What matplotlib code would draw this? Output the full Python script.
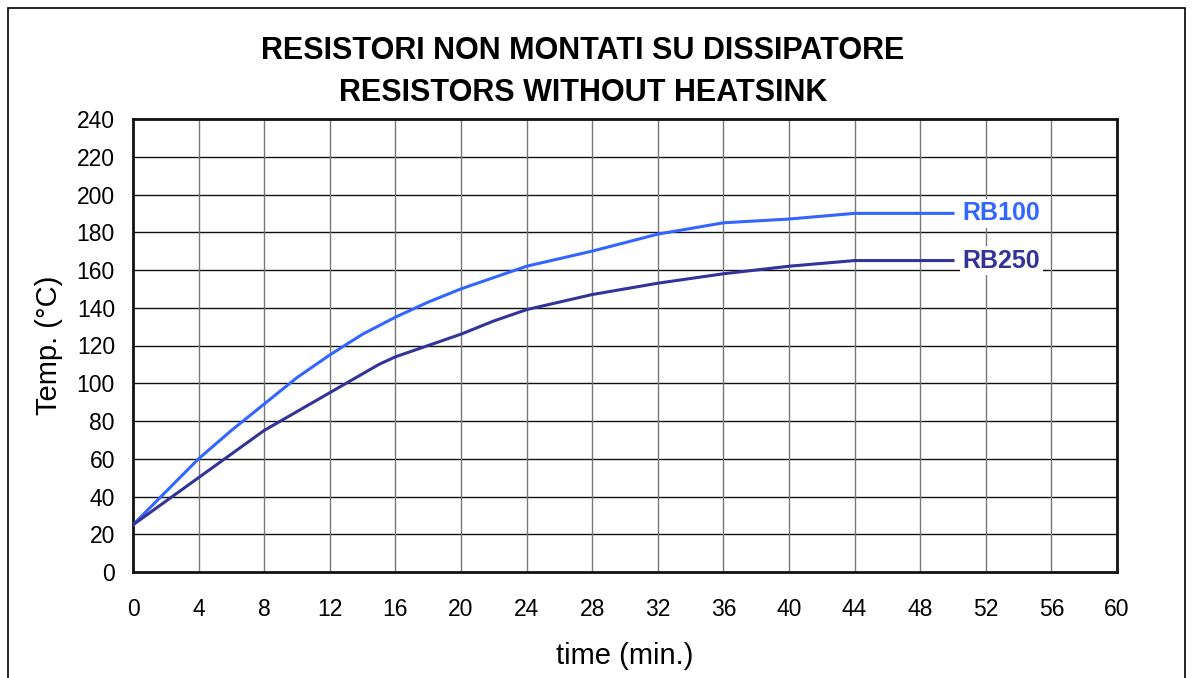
import matplotlib
matplotlib.use("Agg")
import matplotlib.pyplot as plt
from matplotlib.patches import Rectangle

plt.rcParams['font.family'] = ['Liberation Sans', 'DejaVu Sans']

time_rb100 = [0, 4, 6, 8, 10, 12, 14, 16, 18, 20, 24, 28, 32, 34, 36, 38, 40, 44, 50]
temp_rb100 = [25, 60, 75, 89, 103, 115, 126, 135, 143, 150, 162, 170, 179, 182, 185, 186, 187, 190, 190]
time_rb250 = [0, 4, 8, 12, 15, 16, 18, 20, 22, 24, 28, 32, 36, 40, 44, 50]
temp_rb250 = [25, 50, 75, 95, 110, 114, 120, 126, 133, 139, 147, 153, 158, 162, 165, 165]

x_ticks = list(range(0, 61, 4))
y_ticks = list(range(0, 241, 20))

title = "RESISTORI NON MONTATI SU DISSIPATORE\nRESISTORS WITHOUT HEATSINK"
series_names = ["RB100", "RB250"]
colors = ["#3366FF", "#333399"]

fig = plt.figure(figsize=(11.92, 6.78), dpi=100)
ax = fig.add_axes([133/1192, 1 - 572/678, (1117-133)/1192, (572-119)/678])

# figure frame
fig.patches.append(Rectangle((8/1192, -0.05), (1185-8)/1192, 1.05 - 8/678,
                             transform=fig.transFigure, fill=False,
                             edgecolor='black', linewidth=1.2))

ax.set_xlim(0, 60)
ax.set_ylim(0, 240)
ax.set_xticks(x_ticks)
ax.set_yticks(y_ticks)
for y in y_ticks[1:-1]:
    ax.axhline(y, color='#111111', linewidth=1.0, zorder=1)
for x in x_ticks[1:-1]:
    ax.axvline(x, color='#777777', linewidth=1.0, zorder=1)

ax.plot(time_rb100, temp_rb100, color=colors[0], linewidth=2.2, zorder=3)
ax.plot(time_rb250, temp_rb250, color=colors[1], linewidth=2.2, zorder=3)

ax.text(50.6, temp_rb100[-1], series_names[0], color=colors[0], fontsize=18,
        fontweight='bold', va='center', ha='left', zorder=4,
        bbox=dict(facecolor='white', edgecolor='none', pad=2))
ax.text(50.6, temp_rb250[-1], series_names[1], color=colors[1], fontsize=18,
        fontweight='bold', va='center', ha='left', zorder=4,
        bbox=dict(facecolor='white', edgecolor='none', pad=2))

ax.tick_params(axis='both', length=0, labelsize=16.5)
ax.tick_params(axis='y', pad=13)
ax.tick_params(axis='x', pad=19)
for s in ax.spines.values():
    s.set_linewidth(2)
    s.set_color('#111111')

ax.set_xlabel("time (min.)", fontsize=21, labelpad=15)
ax.set_ylabel("Temp. (°C)", fontsize=21, labelpad=10)

fig.text(583/1192, 1 - 72/678, title, ha='center', va='center', fontsize=22,
         fontweight='bold', linespacing=1.5)

fig.savefig("out.png", dpi=100)
